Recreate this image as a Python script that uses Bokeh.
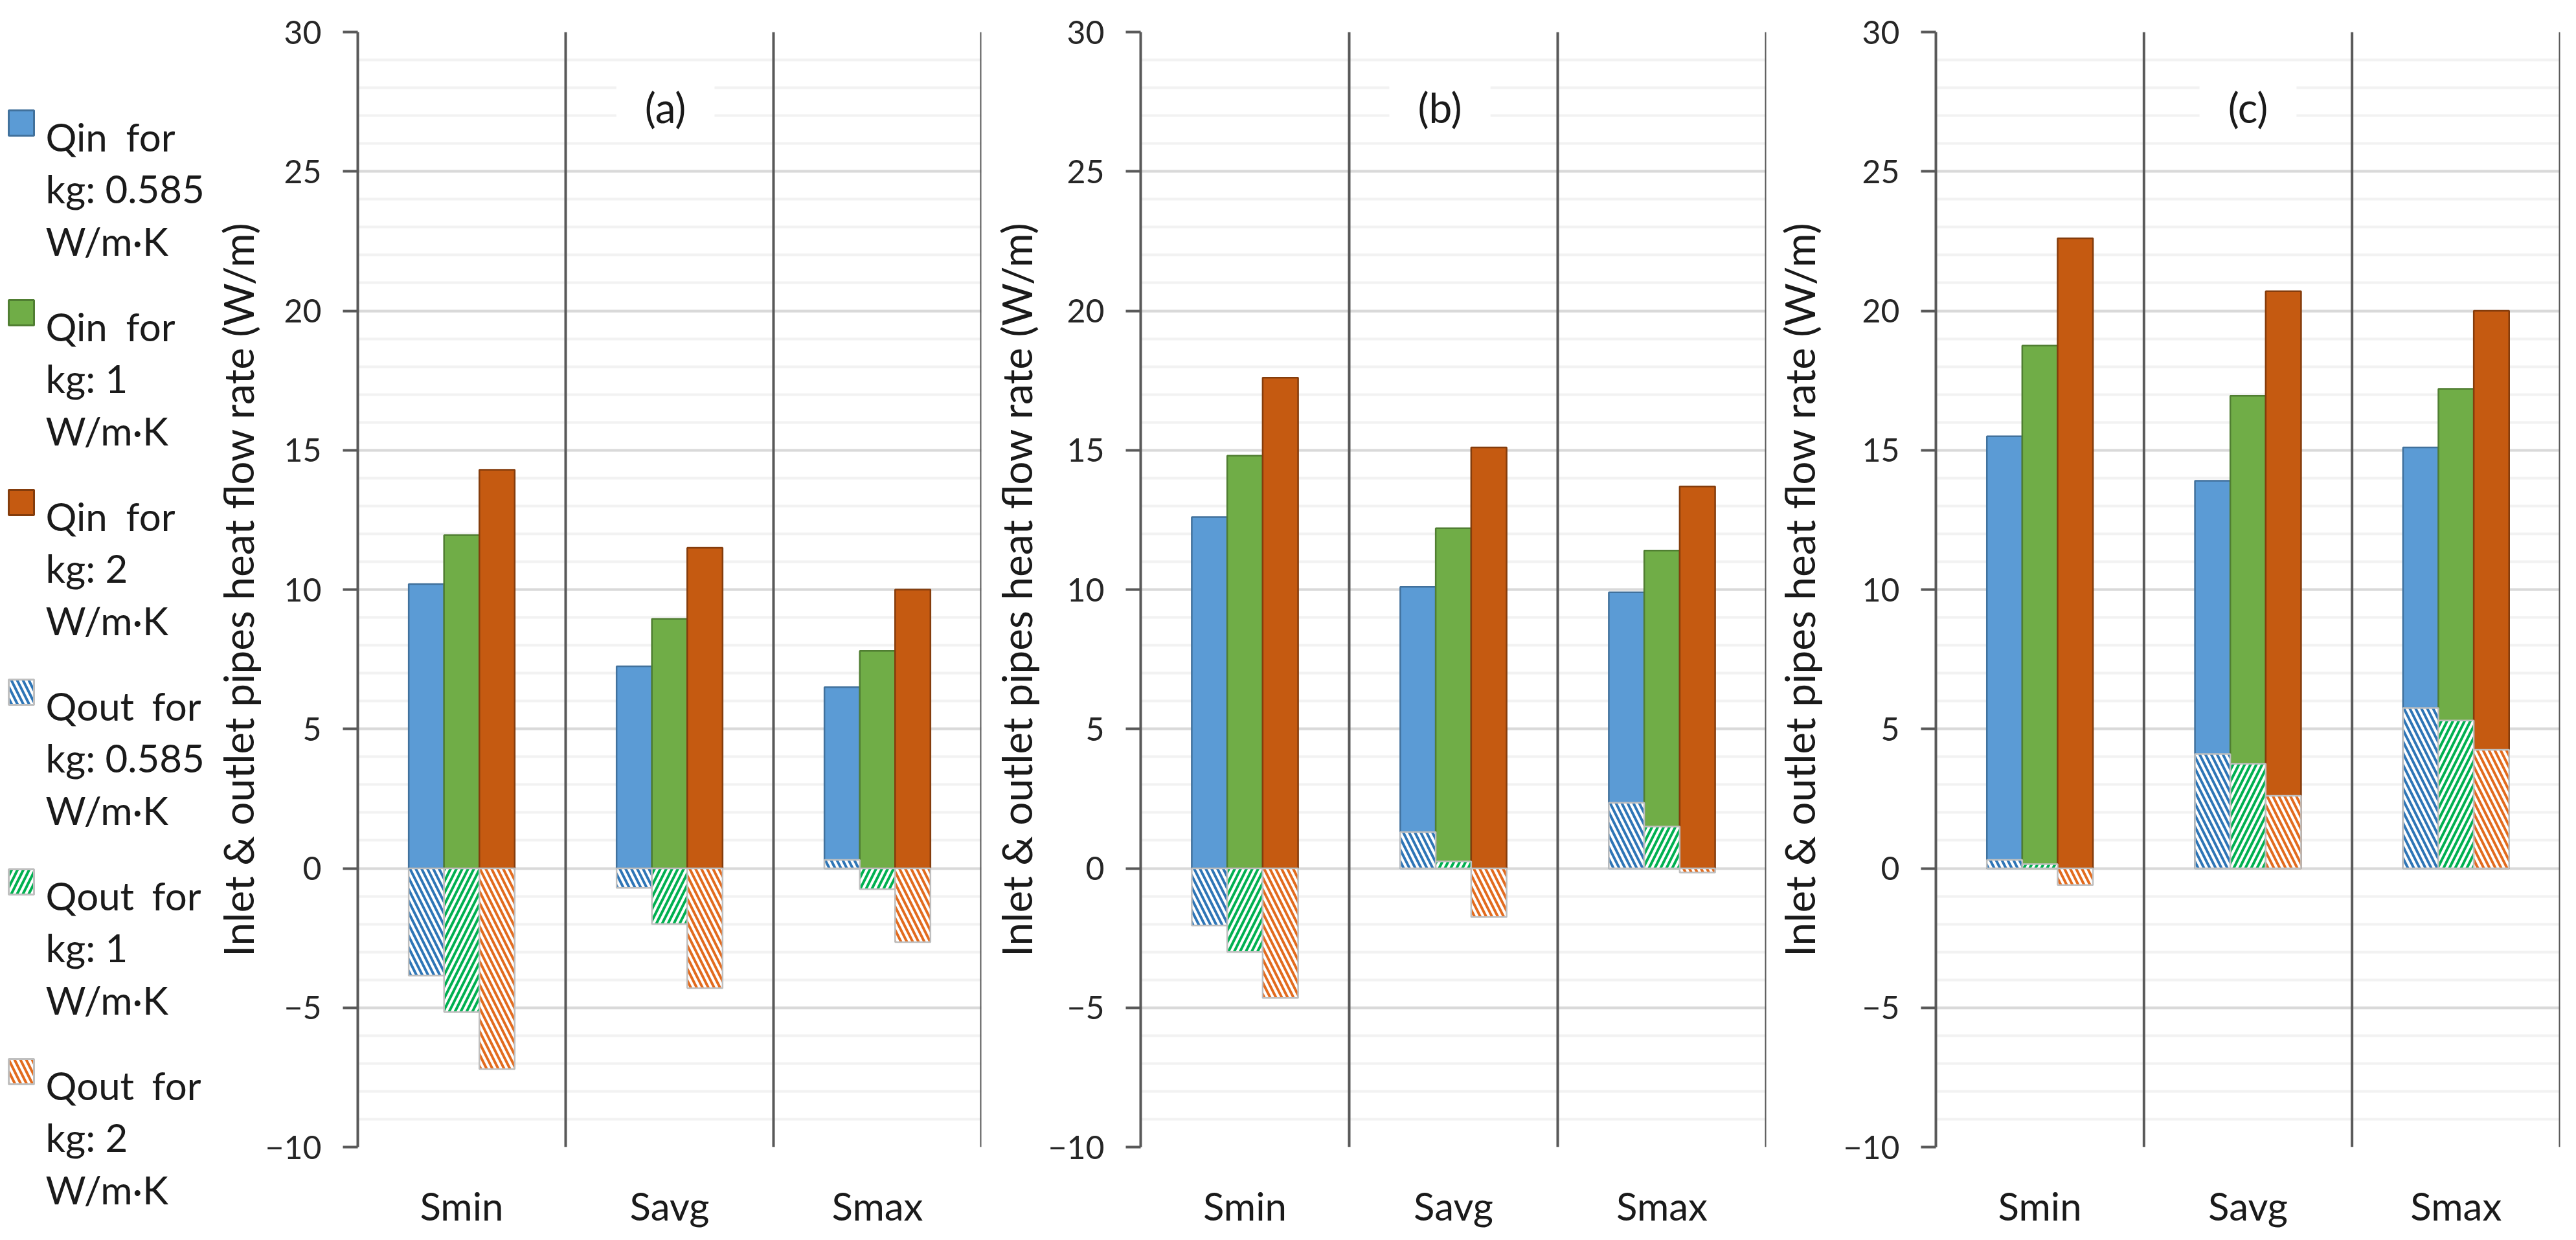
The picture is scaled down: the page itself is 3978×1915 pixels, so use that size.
from bokeh.plotting import figure
from bokeh.models import FactorRange, Range1d, FixedTicker, Span, Label, ColumnDataSource
from bokeh.transform import dodge
from bokeh.layouts import row
from bokeh.embed import file_html
from bokeh.resources import INLINE
from bokeh.core.properties import value

# ---------------- data ----------------
cats = ["Smin", "Savg", "Smax"]

qin_a_0585 = [10.2, 7.25, 6.5]
qin_a_1 = [11.95, 8.95, 7.8]
qin_a_2 = [14.3, 11.5, 10.0]
qout_a_0585 = [-3.85, -0.7, 0.3]
qout_a_1 = [-5.15, -2.0, -0.75]
qout_a_2 = [-7.2, -4.3, -2.65]

qin_b_0585 = [12.6, 10.1, 9.9]
qin_b_1 = [14.8, 12.2, 11.4]
qin_b_2 = [17.6, 15.1, 13.7]
qout_b_0585 = [-2.05, 1.3, 2.35]
qout_b_1 = [-3.0, 0.25, 1.5]
qout_b_2 = [-4.65, -1.75, -0.15]

qin_c_0585 = [15.5, 13.9, 15.1]
qin_c_1 = [18.75, 16.95, 17.2]
qin_c_2 = [22.6, 20.7, 20.0]
qout_c_0585 = [0.3, 4.1, 5.75]
qout_c_1 = [0.15, 3.75, 5.3]
qout_c_2 = [-0.6, 2.6, 4.25]

panel_tags = ["(a)", "(b)", "(c)"]
y_ticks = [-10, -5, 0, 5, 10, 15, 20, 25, 30]
y_minor = list(range(-10, 31))
y_label = "Inlet & outlet pipes heat flow rate (W/m)"

legend_first = ["Qin", "Qin", "Qin", "Qout", "Qout", "Qout"]
legend_kg = ["kg: 0.585", "kg: 1", "kg: 2", "kg: 0.585", "kg: 1", "kg: 2"]
legend_unit = "W/m·K"

# ---------------- styles ----------------
FONT = "Lato"
qin_fill = ["#5B9BD5", "#70AD47", "#C55A11"]
qin_edge = ["#41719C", "#507E32", "#843C0C"]
qout_hatch_color = ["#2E75B6", "#00B050", "#E26B1E"]
qout_hatch = ["\\", "/", "\\"]
offsets = [-0.17, 0.0, 0.17]
BAR_W = 0.17
HATCH_SCALE = 18
HATCH_W = 4

TOP = 49
FH = 1722
BOTTOM = 120
TOTAL_H = TOP + FH + BOTTOM

panel_data = [
    ([qin_a_0585, qin_a_1, qin_a_2], [qout_a_0585, qout_a_1, qout_a_2]),
    ([qin_b_0585, qin_b_1, qin_b_2], [qout_b_0585, qout_b_1, qout_b_2]),
    ([qin_c_0585, qin_c_1, qin_c_2], [qout_c_0585, qout_c_1, qout_c_2]),
]
frame_w = [963, 966, 964]
border_l = [225, 230, 250]
border_r = [13, 10, 15]
label_standoff = [0, 7, 26]
tag_dx = [-0.02, -0.065, 0.0]


def make_panel(k):
    qin, qout = panel_data[k]
    p = figure(x_range=FactorRange(*cats), y_range=Range1d(-10, 30),
               frame_width=frame_w[k], frame_height=FH,
               min_border_left=border_l[k], min_border_right=border_r[k],
               min_border_top=TOP, min_border_bottom=BOTTOM,
               output_backend="svg", toolbar_location=None,
               background_fill_color="white", border_fill_color="white")
    p.outline_line_color = None
    data = dict(cat=cats)
    for i in range(3):
        data[f"qin{i}"] = qin[i]
        data[f"qout{i}"] = qout[i]
    src = ColumnDataSource(data)
    for i in range(3):
        p.vbar(x=dodge("cat", offsets[i], range=p.x_range), top=f"qin{i}", bottom=0,
               width=BAR_W, source=src, fill_color=qin_fill[i],
               line_color=qin_edge[i], line_width=2.5)
    for i in range(3):
        p.vbar(x=dodge("cat", offsets[i], range=p.x_range), top=f"qout{i}", bottom=0,
               width=BAR_W, source=src, fill_color="white",
               hatch_pattern=qout_hatch[i], hatch_color=qout_hatch_color[i],
               hatch_scale=HATCH_SCALE, hatch_weight=HATCH_W,
               line_color="#BFBFBF", line_width=2.5)
    for loc in (1, 2, 3):
        p.add_layout(Span(location=loc, dimension="height", line_color="#595959", line_width=4))

    # y axis
    yax = p.yaxis[0]
    yax.ticker = FixedTicker(ticks=y_ticks, minor_ticks=y_minor)
    yax.major_label_overrides = {-10: "−10", -5: "−5"}
    yax.axis_line_color = "#595959"
    yax.axis_line_width = 4
    yax.major_tick_line_color = "#595959"
    yax.major_tick_line_width = 4
    yax.major_tick_out = 23
    yax.major_tick_in = 0
    yax.minor_tick_out = 0
    yax.minor_tick_in = 0
    yax.major_label_standoff = 33
    yax.major_label_text_font = FONT
    yax.major_label_text_font_size = "50px"
    yax.major_label_text_color = "#262626"
    yax.axis_label = y_label
    yax.axis_label_text_font = FONT
    yax.axis_label_text_font_size = "64px"
    yax.axis_label_text_font_style = "normal"
    yax.axis_label_text_color = "#1A1A1A"
    yax.axis_label_standoff = label_standoff[k]

    # x axis
    xax = p.xaxis[0]
    xax.axis_line_color = None
    xax.major_tick_line_color = None
    xax.minor_tick_line_color = None
    xax.major_label_standoff = 48
    xax.major_label_text_font = FONT
    xax.major_label_text_font_size = "60px"
    xax.major_label_text_color = "#1A1A1A"

    # grids
    p.xgrid.grid_line_color = None
    p.ygrid.grid_line_color = "#D9D9D9"
    p.ygrid.grid_line_width = 4
    p.ygrid.minor_grid_line_color = "#F2F2F2"
    p.ygrid.minor_grid_line_width = 4

    p.add_layout(Label(x=1.5 + tag_dx[k], y=27.3, text=panel_tags[k],
                       text_align="center", text_baseline="middle",
                       text_font=FONT, text_font_size="64px", text_color="#1A1A1A",
                       background_fill_color="white",
                       padding=dict(left=44, right=44, top=5, bottom=5)))
    return p


# ---------------- legend figure ----------------
LW = 326
leg = figure(x_range=Range1d(0, LW), y_range=Range1d(TOTAL_H, 0),
             frame_width=LW, frame_height=TOTAL_H, min_border=0,
             x_axis_location=None, y_axis_location=None,
             output_backend="svg", toolbar_location=None,
             background_fill_color="white", border_fill_color="white")
leg.outline_line_color = None
leg.xgrid.grid_line_color = None
leg.ygrid.grid_line_color = None

STEP = 293
BASE = 161
LINE = 80.5
sw_y = [BASE - 20.5 + STEP * i for i in range(6)]
leg.rect(x=[32.5] * 3, y=sw_y[:3], width=39, height=39,
         fill_color=qin_fill, line_color=qin_edge, line_width=3)
leg.rect(x=[32.5] * 3, y=sw_y[3:], width=39, height=39,
         fill_color="white", hatch_pattern=qout_hatch, hatch_color=qout_hatch_color,
         hatch_scale=HATCH_SCALE, hatch_weight=HATCH_W, line_color="#BFBFBF", line_width=3)

tx, ty, tt = [], [], []
for i in range(6):
    b = BASE + STEP * i
    tx += [70, 70, 70]
    ty += [b, b + LINE, b + 2 * LINE]
    tt += [legend_first[i], legend_kg[i], legend_unit]
leg.text(x=tx, y=ty, text=tt, text_font=value(FONT), text_font_size="60px",
         text_color="#1A1A1A", text_baseline="alphabetic", text_align="left")
for_x = [270 if f == "Qin" else 310 for f in legend_first]
for_y = [BASE + STEP * i for i in range(6)]
leg.text(x=for_x, y=for_y, text=["for"] * 6, text_font=value(FONT), text_font_size="60px",
         text_color="#1A1A1A", text_baseline="alphabetic", text_align="right")

panels = [make_panel(k) for k in range(3)]
layout = row(leg, *panels, spacing=0)

open("out.html", "w").write(file_html(layout, INLINE))
